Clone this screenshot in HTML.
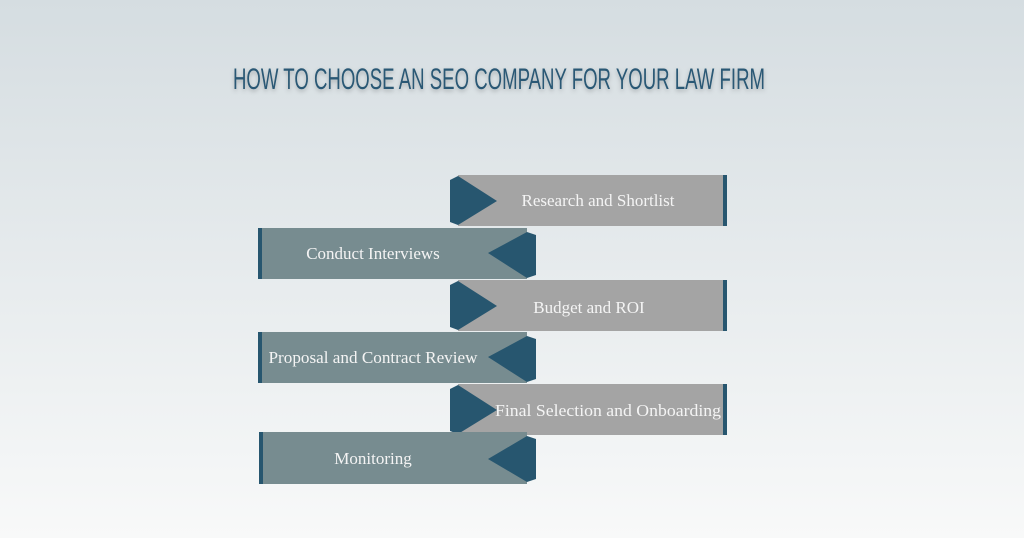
<!DOCTYPE html>
<html><head><style>
html,body{margin:0;padding:0;width:1024px;height:538px;overflow:hidden;background:#f8f9f9}
body{background:linear-gradient(#d5dde1,#f8f9f9)}
svg{display:block}
</style></head><body>
<svg width="1024" height="538" viewBox="0 0 1024 538" xmlns="http://www.w3.org/2000/svg">
<defs><filter id="sh"><feDropShadow dx="0" dy="2" stdDeviation="2" flood-color="#000" flood-opacity="0.25"/></filter></defs>
<text x="233" y="89" font-family="'Liberation Sans Narrow','Liberation Sans',sans-serif" font-size="30" fill="#2b5874" textLength="532" lengthAdjust="spacingAndGlyphs" filter="url(#sh)">HOW TO CHOOSE AN SEO COMPANY FOR YOUR LAW FIRM</text>
<g font-family="'Liberation Serif',serif" font-size="17" fill="#f4f4f4" text-anchor="middle">
<g>
<rect x="458" y="175" width="269" height="51" fill="#a4a4a4"/>
<rect x="723" y="175" width="4" height="51" fill="#27566f"/>
<polygon points="450,180 458,176 497,201 458,225 450,222" fill="#27566f"/>
<text x="598" y="206">Research and Shortlist</text>
</g>
<g>
<rect x="458" y="280" width="269" height="51" fill="#a4a4a4"/>
<rect x="723" y="280" width="4" height="51" fill="#27566f"/>
<polygon points="450,285 458,281 497,306 458,330 450,327" fill="#27566f"/>
<text x="589" y="313">Budget and ROI</text>
</g>
<g>
<rect x="458" y="384" width="269" height="51" fill="#a4a4a4"/>
<rect x="723" y="384" width="4" height="51" fill="#27566f"/>
<polygon points="450,389 458,385 497,410 458,434 450,431" fill="#27566f"/>
<text x="608" y="416" textLength="226" lengthAdjust="spacingAndGlyphs">Final Selection and Onboarding</text>
</g>
<g>
<rect x="258" y="228" width="269" height="51" fill="#778c90"/>
<rect x="258" y="228" width="4" height="51" fill="#27566f"/>
<polygon points="527,232 536,235 536,275 527,278 488,253" fill="#27566f"/>
<text x="373" y="259">Conduct Interviews</text>
</g>
<g>
<rect x="258" y="332" width="269" height="51" fill="#778c90"/>
<rect x="258" y="332" width="4" height="51" fill="#27566f"/>
<polygon points="527,336 536,339 536,379 527,382 488,357" fill="#27566f"/>
<text x="373" y="363" textLength="209" lengthAdjust="spacingAndGlyphs">Proposal and Contract Review</text>
</g>
<g>
<rect x="259" y="432" width="268" height="52" fill="#778c90"/>
<rect x="259" y="432" width="4" height="52" fill="#27566f"/>
<polygon points="527,436 536,439 536,479 527,482 488,459" fill="#27566f"/>
<text x="373" y="464">Monitoring</text>
</g>
</g>
</svg>
</body></html>
